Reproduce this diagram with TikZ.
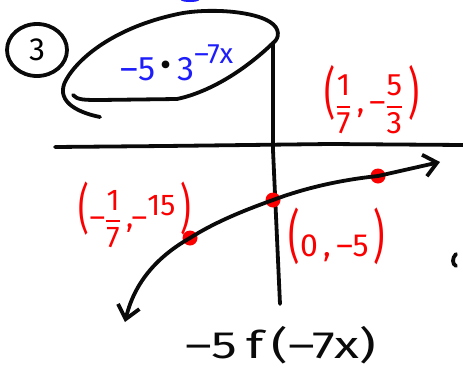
\documentclass[tikz,border=0pt]{standalone}
\usepackage{fontspec}
\usepackage{amsmath}
\usepackage{graphicx}
\setmainfont{Fira Sans}
\usetikzlibrary{arrows.meta,shapes.geometric}
\definecolor{pen}{RGB}{10,10,10}
\definecolor{redink}{RGB}{250,0,0}
\definecolor{blueink}{RGB}{30,30,250}
\newcommand{\myfr}[2]{$\genfrac{}{}{1.8pt}{0}{\text{#1}}{\text{#2}}$}
\newcommand{\tallp}[1]{\scalebox{1.1}[1.8]{#1}}
\tikzset{
  ink/.style={draw=pen,line width=3.8pt,line cap=round,line join=round},
  rdot/.style={circle,fill=redink,inner sep=0pt,minimum size=15pt},
  rlabel/.style={text=redink,inner sep=1pt},
  openarrow/.style={-{Straight Barb[length=13pt,width=22pt,line width=3.8pt]}}
}
\begin{document}
\begin{tikzpicture}[x=1pt,y=-1pt]
\useasboundingbox (0,0) rectangle (463,367);
% circled 3
\node[font=\fontsize{32}{34}\selectfont,inner sep=0pt] (three) at (37,50) {3};
\draw[ink] (three.center) ellipse (30pt and 26pt);
% ellipse around expression
\draw[ink] (100,117) .. controls (75,112) and (55,100) .. (66,80) .. controls (80,55) and (120,25) .. (183,13) .. controls (215,8) and (255,12) .. (270,22) .. controls (280,28) and (280,38) .. (273,43);
\draw[ink] (73,95) .. controls (77,100) and (85,100) .. (100,100) -- (177,99) .. controls (210,92) and (245,70) .. (273,43);
\node[text=blueink,font=\fontsize{34}{36}\selectfont,inner sep=0pt] (expr) at (177,63) {–5\,\raisebox{0.12em}{\textcolor{pen}{\textbullet}}\,3\raisebox{0.5em}{\fontsize{28}{30}\selectfont–7x}};
\fill[blueink] (190,0) ellipse (9pt and 2pt);
% axes
\coordinate (xl) at (55,147);
\coordinate (xr) at (463,145);
\coordinate (yt) at (273,43);
\coordinate (yb) at (280,304);
\draw[ink] (xl) -- (165,146) -- (330,144) -- (xr);
\draw[ink] (yt) -- (273,150) -- (yb);
% points
\node[rdot] (pl) at (190,238) {};
\node[rdot] (pm) at (273,200) {};
\node[rdot] (pr) at (378,176) {};
\coordinate (endl) at (125,322);
\coordinate (endr) at (440,162);
% curve
\draw[ink,openarrow] (pl.center) .. controls (160,255) and (135,280) .. (endl);
\draw[ink] (pl.center) .. controls (215,222) and (245,210) .. (pm.center);
\draw[ink,openarrow] (pm.center) .. controls (305,188) and (340,180) .. (pr.center) -- (endr);
% labels
\node[rlabel,font=\fontsize{31}{33}\selectfont] (lr) at (372,100) {\tallp{(}\myfr{1}{7}\,,\,–\myfr{5}{3}\,\tallp{)}};
\node[rlabel,font=\fontsize{30}{32}\selectfont] (ll) at (135,215) {\tallp{(}–\myfr{1}{7}\,,–\raisebox{0.4em}{15}\,\tallp{)}};
\node[rlabel,font=\fontsize{32}{34}\selectfont] (lm) at (337,236) {\tallp{(}0\,,\,–5\,\tallp{)}};
\node[text=pen,font=\fontsize{38}{40}\selectfont] (fx) at (281,345) {\scalebox{1.35}[1]{–5\,f\,(–7x)}};
\draw[ink] (456,254) .. controls (452,258) and (452,264) .. (456,266);
\end{tikzpicture}
\end{document}
